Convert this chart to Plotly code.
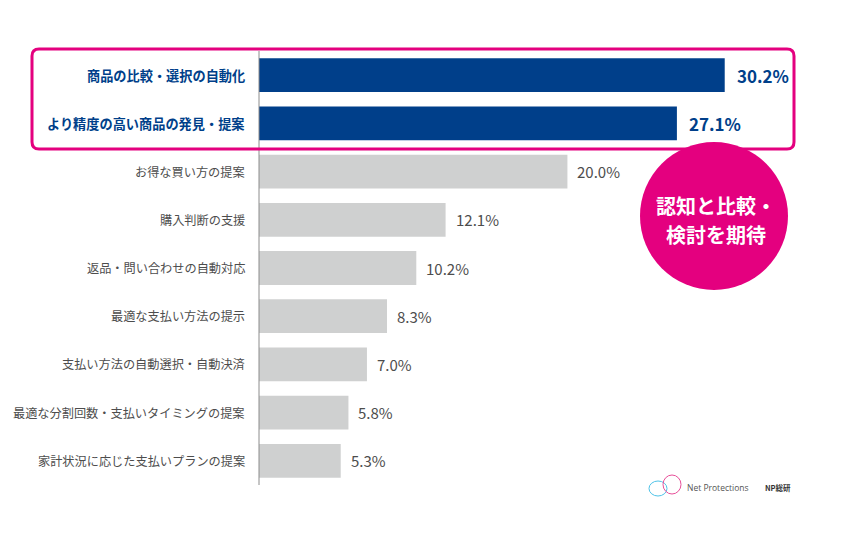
"""
AI shopping expectations bar chart (Net Protections survey) recreated with Plotly.
"""

import plotly.graph_objects as go

W, H = 851, 537
FONT = "Noto Sans CJK JP"

categories = [
    "商品の比較・選択の自動化",
    "より精度の高い商品の発見・提案",
    "お得な買い方の提案",
    "購入判断の支援",
    "返品・問い合わせの自動対応",
    "最適な支払い方法の提示",
    "支払い方法の自動選択・自動決済",
    "最適な分割回数・支払いタイミングの提案",
    "家計状況に応じた支払いプランの提案",
]
values = [30.2, 27.1, 20.0, 12.1, 10.2, 8.3, 7.0, 5.8, 5.3]
highlighted = [True, True, False, False, False, False, False, False, False]

callout_lines = ["認知と比較・", "検討を期待"]

BLUE = "#003f8a"
GRAY_BAR = "#cfd0d0"
GRAY_TEXT = "#4d4d4d"
PINK = "#e4007f"

# plot area in pixels
L, R, T, B = 259, 845, 51, 485
X_MAX = 38.0


def px_x(px):
    return (px - L) / (R - L)


def px_y(py):
    return (B - py) / (B - T)


bar_colors = [BLUE if h else GRAY_BAR for h in highlighted]

fig = go.Figure(go.Bar(
    x=values,
    y=categories,
    orientation="h",
    marker=dict(color=bar_colors, line=dict(width=0)),
    width=0.7,
    hoverinfo="skip",
))

annotations = []
for cat, val, hl in zip(categories, values, highlighted):
    # category label on the left
    annotations.append(dict(
        x=px_x(247), xref="paper", y=cat, yref="y",
        text=f"<b>{cat}</b>" if hl else cat,
        showarrow=False, xanchor="right", yanchor="middle",
        font=dict(family=FONT, size=13.2 if hl else 12.2, color=BLUE if hl else GRAY_TEXT),
    ))
    # value label at bar end
    annotations.append(dict(
        x=val, xref="x", y=cat, yref="y",
        text=f"<b>{val:.1f}%</b>" if hl else f"{val:.1f}%",
        showarrow=False, xanchor="left", yanchor="middle",
        xshift=10 if hl else 8,
        font=dict(family=FONT, size=17 if hl else 15, color=BLUE if hl else GRAY_TEXT),
    ))

# callout circle text, one annotation per line
for line_text, py in zip(callout_lines, [205, 234]):
    annotations.append(dict(
        x=px_x(716), xref="paper", y=px_y(py), yref="paper",
        text=f"<b>{line_text}</b>",
        showarrow=False, xanchor="center", yanchor="middle",
        font=dict(family=FONT, size=20, color="white"),
    ))

# logo text
annotations.append(dict(
    x=px_x(685), xref="paper", y=px_y(487), yref="paper",
    text="Net Protections", showarrow=False, xanchor="left", yanchor="middle",
    font=dict(family="Open Sans", size=8.5, color="#555555"),
))
annotations.append(dict(
    x=px_x(763), xref="paper", y=px_y(487), yref="paper",
    text="<b>NP総研</b>", showarrow=False, xanchor="left", yanchor="middle",
    font=dict(family=FONT, size=7.5, color="#333333"),
))

# rounded pink frame around the two highlighted rows
x0, x1 = px_x(32), px_x(794)
y0, y1 = px_y(149), px_y(49)
rx, ry = 7 / (R - L), 7 / (B - T)
frame_path = (
    f"M {x0 + rx},{y1} L {x1 - rx},{y1} Q {x1},{y1} {x1},{y1 - ry} "
    f"L {x1},{y0 + ry} Q {x1},{y0} {x1 - rx},{y0} "
    f"L {x0 + rx},{y0} Q {x0},{y0} {x0},{y0 + ry} "
    f"L {x0},{y1 - ry} Q {x0},{y1} {x0 + rx},{y1} Z"
)

shapes = [
    # axis line
    dict(type="line", xref="paper", yref="paper", x0=0, x1=0, y0=0, y1=1,
         line=dict(color="#8c8c8c", width=1), layer="above"),
    dict(type="path", xref="paper", yref="paper", path=frame_path,
         line=dict(color=PINK, width=3), fillcolor="rgba(0,0,0,0)"),
    dict(type="circle", xref="paper", yref="paper",
         x0=px_x(640), x1=px_x(788), y0=px_y(290), y1=px_y(142),
         fillcolor=PINK, line=dict(width=0)),
    # rough logo loops
    dict(type="circle", xref="paper", yref="paper",
         x0=px_x(649), x1=px_x(667), y0=px_y(496), y1=px_y(481),
         line=dict(color="#4fc3e8", width=1), fillcolor="rgba(0,0,0,0)"),
    dict(type="circle", xref="paper", yref="paper",
         x0=px_x(663), x1=px_x(681), y0=px_y(494), y1=px_y(475),
         line=dict(color="#e8509a", width=1), fillcolor="rgba(0,0,0,0)"),
]

fig.update_layout(
    width=W, height=H,
    margin=dict(l=L, r=W - R, t=T, b=H - B),
    paper_bgcolor="white", plot_bgcolor="white",
    showlegend=False,
    xaxis=dict(range=[0, X_MAX], visible=False, fixedrange=True),
    yaxis=dict(categoryorder="array", categoryarray=categories, autorange="reversed",
               showticklabels=False, showgrid=False, zeroline=False, showline=False,
               ticks="", fixedrange=True),
    annotations=annotations,
    shapes=shapes,
    font=dict(family=FONT),
)

# drop the default page margin so the figure sits at the window origin
fig.write_html("out.html", config={"displayModeBar": False},
               post_script="document.body.style.margin='0';")
